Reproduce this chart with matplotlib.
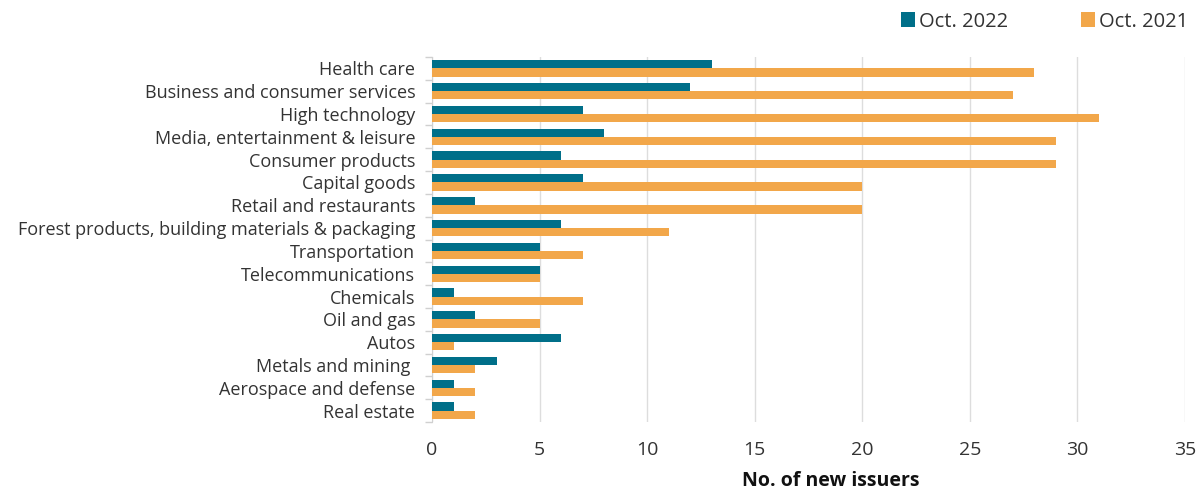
import matplotlib
matplotlib.use("Agg")
import matplotlib.pyplot as plt
import numpy as np

plt.rcParams['font.family'] = ['Open Sans', 'DejaVu Sans']

sectors = [
    "Health care",
    "Business and consumer services",
    "High technology",
    "Media, entertainment & leisure",
    "Consumer products",
    "Capital goods",
    "Retail and restaurants",
    "Forest products, building materials & packaging",
    "Transportation",
    "Telecommunications",
    "Chemicals",
    "Oil and gas",
    "Autos",
    "Metals and mining ",
    "Aerospace and defense",
    "Real estate",
]
oct_2022 = [13, 12, 7, 8, 6, 7, 2, 6, 5, 5, 1, 2, 6, 3, 1, 1]
oct_2021 = [28, 27, 31, 29, 29, 20, 20, 11, 7, 5, 7, 5, 1, 2, 2, 2]

teal = "#006f89"
orange = "#f2a74a"
text_c = "#333333"

fig = plt.figure(figsize=(12, 4.94), dpi=100)
ax = fig.add_axes([0.36, 0.1457, 0.6275, 0.7389])

y = np.arange(len(sectors))
h = 0.36
ax.barh(y - h / 2, oct_2022, height=h, color=teal, label="Oct. 2022", zorder=3)
ax.barh(y + h / 2, oct_2021, height=h, color=orange, label="Oct. 2021", zorder=3)

ax.set_ylim(len(sectors) - 0.5, -0.5)
ax.set_xlim(0, 35)
ax.set_xticks(np.arange(0, 36, 5))
ax.set_yticks(y)
ax.set_yticklabels(sectors, fontsize=13, color=text_c)
ax.tick_params(axis='y', length=0, pad=12)
ax.set_yticks(np.arange(-0.5, len(sectors), 1), minor=True)
ax.tick_params(axis='y', which='minor', length=5, color="#d0d0d0", width=1)
ax.tick_params(axis='x', length=0, labelsize=14, labelcolor=text_c, pad=14)

ax.grid(axis='x', color="#dddddd", linewidth=1, zorder=0)
for s in ["top", "right", "bottom"]:
    ax.spines[s].set_visible(False)
ax.spines["left"].set_color("#d0d0d0")

ax.set_xlabel("No. of new issuers", fontsize=14, fontweight='bold',
              color="#111111")
ax.xaxis.set_label_coords(0.53, -0.135)

leg = ax.legend(loc="lower right", bbox_to_anchor=(1.029, 1.02), ncol=2,
                frameon=False, fontsize=14.5, handlelength=0.7,
                handleheight=0.7, handletextpad=0.2, columnspacing=3.65)
for t in leg.get_texts():
    t.set_color(text_c)

fig.savefig("out.png", dpi=100)
